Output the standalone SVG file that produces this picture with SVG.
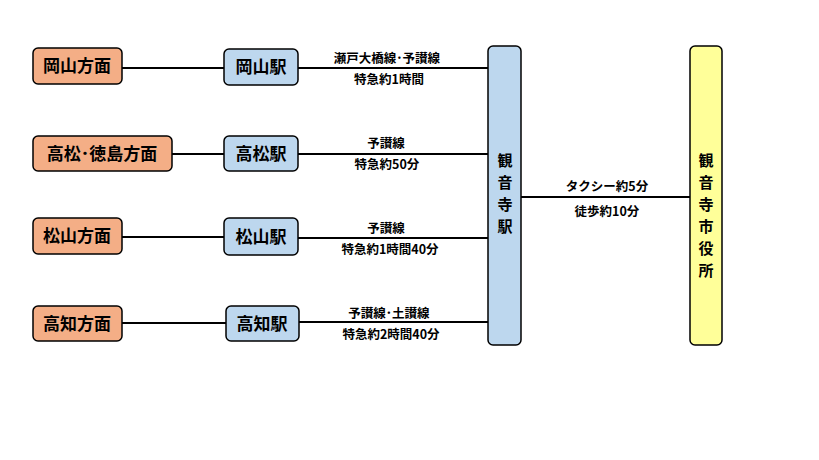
<svg xmlns="http://www.w3.org/2000/svg" width="819" height="460" viewBox="0 0 819 460">
<style>
text{font-family:"Noto Sans CJK JP","Liberation Sans",sans-serif;fill:#000;text-anchor:middle}
.b{stroke:#000;stroke-width:1.5}
.o{fill:#f4ae86}.s{fill:#bdd7ee}.y{fill:#ffff99}
.t{font-size:17px;font-weight:bold}
.v{font-size:15px;font-weight:bold}
.l{font-size:12.5px;font-weight:bold}
.c line{stroke:#000;stroke-width:2}
</style>
<rect width="819" height="460" fill="#fff"/>
<g class="c" id="connectors">
<line x1="122" y1="68" x2="224" y2="68"/><line x1="298" y1="68" x2="488" y2="68"/>
<line x1="172" y1="154" x2="224" y2="154"/><line x1="298" y1="154" x2="488" y2="154"/>
<line x1="122" y1="237" x2="224" y2="237"/><line x1="298" y1="238" x2="488" y2="238"/>
<line x1="122" y1="323" x2="226" y2="323"/><line x1="299" y1="322" x2="488" y2="322"/>
<line x1="521" y1="197" x2="690" y2="197"/>
<text class="l" x="387" y="63">瀬戸大橋線･予讃線</text><text class="l" x="389" y="84">特急約1時間</text>
<text class="l" x="386" y="148">予讃線</text><text class="l" x="387" y="169">特急約50分</text>
<text class="l" x="386" y="233">予讃線</text><text class="l" x="390" y="254">特急約1時間40分</text>
<text class="l" x="389" y="318">予讃線･土讃線</text><text class="l" x="391" y="339">特急約2時間40分</text>
<text class="l" x="607" y="191">タクシー約5分</text><text class="l" x="607" y="216">徒歩約10分</text>
</g>
<g id="n1"><rect class="b o" x="33" y="48" width="89" height="36" rx="5"/><text class="t" x="77" y="72">岡山方面</text></g>
<g id="n2"><rect class="b o" x="33" y="136" width="139" height="35" rx="5"/><text class="t" x="102" y="160">高松･徳島方面</text></g>
<g id="n3"><rect class="b o" x="33" y="218" width="89" height="36" rx="5"/><text class="t" x="77" y="242">松山方面</text></g>
<g id="n4"><rect class="b o" x="33" y="306" width="89" height="35" rx="5"/><text class="t" x="77" y="330">高知方面</text></g>
<g id="s1"><rect class="b s" x="224" y="49" width="74" height="36" rx="5"/><text class="t" x="261" y="73">岡山駅</text></g>
<g id="s2"><rect class="b s" x="224" y="136" width="74" height="35" rx="5"/><text class="t" x="261" y="160">高松駅</text></g>
<g id="s3"><rect class="b s" x="224" y="218" width="74" height="37" rx="5"/><text class="t" x="261" y="243">松山駅</text></g>
<g id="s4"><rect class="b s" x="226" y="306" width="73" height="35" rx="5"/><text class="t" x="262" y="330">高知駅</text></g>
<g id="kanonji"><rect class="b s" x="488" y="46" width="33" height="299" rx="5"/>
<text class="v" x="505" y="166">観</text><text class="v" x="505" y="188">音</text><text class="v" x="505" y="210">寺</text><text class="v" x="505" y="232">駅</text></g>
<g id="cityhall"><rect class="b y" x="690" y="46" width="32" height="299" rx="5"/>
<text class="v" x="706" y="166">観</text><text class="v" x="706" y="188">音</text><text class="v" x="706" y="210">寺</text><text class="v" x="706" y="232">市</text><text class="v" x="706" y="254">役</text><text class="v" x="706" y="276">所</text></g>
</svg>
